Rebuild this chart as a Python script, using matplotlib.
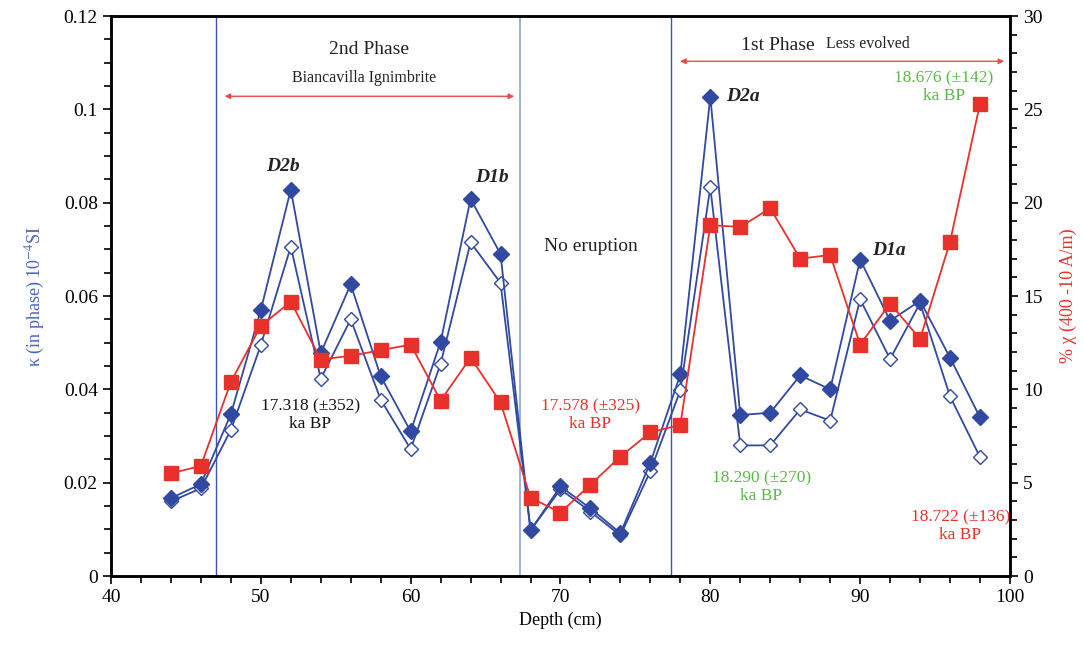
import matplotlib.pyplot as plt
from matplotlib.ticker import MultipleLocator

plt.rcParams['font.family'] = ['Liberation Serif', 'DejaVu Serif']
plt.rcParams['mathtext.fontset'] = 'stix'

# profondeur (cm)
depth = [44, 46, 48, 50, 52, 54, 56, 58, 60, 62, 64, 66, 68, 70, 72, 74,
         76, 78, 80, 82, 84, 86, 88, 90, 92, 94, 96, 98]

# kappa (in phase), symboles pleins et vides
kappa_full = [0.0167, 0.0197, 0.0347, 0.0570, 0.0828, 0.0478, 0.0625, 0.0428,
              0.0310, 0.0502, 0.0808, 0.0690, 0.0098, 0.0192, 0.0145, 0.0092,
              0.0243, 0.0432, 0.1027, 0.0345, 0.0350, 0.0430, 0.0400, 0.0678,
              0.0547, 0.0590, 0.0468, 0.0340]
kappa_open = [0.0160, 0.0188, 0.0313, 0.0495, 0.0706, 0.0423, 0.0550, 0.0378,
              0.0272, 0.0455, 0.0715, 0.0628, 0.0098, 0.0186, 0.0138, 0.0087,
              0.0225, 0.0398, 0.0833, 0.0280, 0.0280, 0.0357, 0.0333, 0.0593,
              0.0465, 0.0585, 0.0385, 0.0255]

# % chi (400 - 10 A/m)
chi_fd = [5.5, 5.9, 10.4, 13.4, 14.7, 11.6, 11.8, 12.1, 12.4, 9.4, 11.7, 9.3,
          4.2, 3.4, 4.9, 6.4, 7.7, 8.1, 18.8, 18.7, 19.7, 17.0, 17.2, 12.4,
          14.6, 12.7, 17.9, 25.3]

bleu = '#3149a0'
rouge = '#e8312b'
vert = '#5cb84a'

fig = plt.figure(figsize=(10.84, 6.48), dpi=100)
ax = fig.add_axes([0.1024, 0.111, 0.8293, 0.8643])
ax2 = ax.twinx()

ax.plot(depth, kappa_open, color=bleu, lw=1.3, marker='D', ms=7,
        mfc='white', mec=bleu, mew=1.0, zorder=3)
ax.plot(depth, kappa_full, color=bleu, lw=1.3, marker='D', ms=8.5,
        mfc=bleu, mec=bleu, zorder=4)
ax2.plot(depth, chi_fd, color=rouge, lw=1.3, marker='s', ms=10.5,
         mfc=rouge, mec=rouge, zorder=3)

# limites des phases
ax.axvline(47, color='#3a55b0', lw=1.0)
ax.axvline(67.3, color='#8fa3d8', lw=1.2)
ax.axvline(77.4, color='#3a55b0', lw=1.0)

ax.set_xlim(40, 100)
ax.set_ylim(0, 0.12)
ax2.set_ylim(0, 30)

ax.xaxis.set_major_locator(MultipleLocator(10))
ax.xaxis.set_minor_locator(MultipleLocator(2))
ax.yaxis.set_major_locator(MultipleLocator(0.02))
ax.yaxis.set_minor_locator(MultipleLocator(0.005))
ax2.yaxis.set_major_locator(MultipleLocator(5))
ax2.yaxis.set_minor_locator(MultipleLocator(1))
ax.set_yticks([0, 0.02, 0.04, 0.06, 0.08, 0.1, 0.12])
ax.set_yticklabels(['0', '0.02', '0.04', '0.06', '0.08', '0.1', '0.12'])

for a in (ax, ax2):
    a.tick_params(which='both', direction='out', width=1.2, labelsize=14)
    a.tick_params(which='major', length=6)
    a.tick_params(which='minor', length=5)
    for s in a.spines.values():
        s.set_linewidth(1.8)

ax.set_xlabel('Depth (cm)', fontsize=13)
ax.set_ylabel('κ (in phase) 10$^{-4}$SI', fontsize=13, color='#4a64b8', labelpad=12)
ax2.set_ylabel('% χ (400 -10 A/m)', fontsize=13, color=rouge, labelpad=12)

# fleches des phases
ax.annotate('', xy=(47.4, 0.1028), xytext=(67.1, 0.1028),
            arrowprops=dict(arrowstyle='<|-|>', color='#ee4a4a', lw=1.0,
                            mutation_scale=8))
ax.annotate('', xy=(77.8, 0.1103), xytext=(99.8, 0.1103),
            arrowprops=dict(arrowstyle='<|-|>', color='#ee4a4a', lw=1.0,
                            mutation_scale=8))

ax.text(57.2, 0.1128, '2nd Phase', ha='center', va='center', fontsize=14, color='#222222')
ax.text(56.9, 0.1068, 'Biancavilla Ignimbrite', ha='center', va='center', fontsize=11.5, color='#222222')
ax.text(84.5, 0.1137, '1st Phase', ha='center', va='center', fontsize=14, color='#222222')
ax.text(90.5, 0.1140, 'Less evolved', ha='center', va='center', fontsize=11.5, color='#222222')
ax.text(72, 0.0707, 'No eruption', ha='center', va='center', fontsize=14, color='#222222')

for lab, x, y in [('D2b', 51.5, 0.0877), ('D1b', 65.4, 0.0853),
                  ('D2a', 82.2, 0.1028), ('D1a', 91.9, 0.0698)]:
    ax.text(x, y, lab, ha='center', va='center', fontsize=14,
            fontweight='bold', fontstyle='italic', color='#222222')

for txt, x, y, c in [('17.318 (±352)\nka BP', 53.3, 0.0345, '#111111'),
                     ('17.578 (±325)\nka BP', 72.0, 0.0345, rouge),
                     ('18.290 (±270)\nka BP', 83.4, 0.0190, vert),
                     ('18.676 (±142)\nka BP', 95.6, 0.1048, vert),
                     ('18.722 (±136)\nka BP', 96.7, 0.0107, rouge)]:
    ax.text(x, y, txt, ha='center', va='center', fontsize=12.5,
            color=c, linespacing=1.15)

fig.savefig('out.png', dpi=100)
